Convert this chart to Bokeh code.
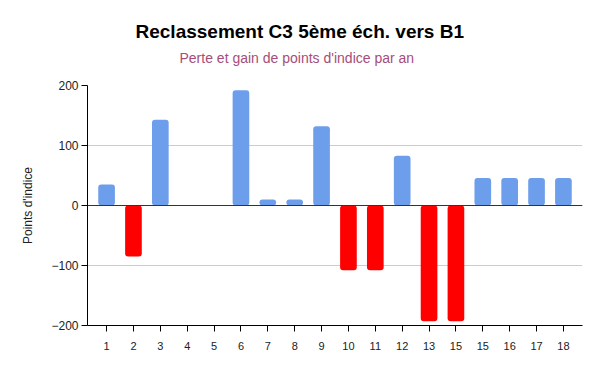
from bokeh.plotting import figure
from bokeh.models import Range1d, FixedTicker, Span, Title, ColumnDataSource
from bokeh.embed import file_html
from bokeh.resources import INLINE

# Data
positions = list(range(1, 19))
tick_labels = ["1", "2", "3", "4", "5", "6", "7", "8", "9", "10", "11", "12",
               "13", "15", "15", "16", "17", "18"]
values = [35, -85, 143, 0, 0, 192, 10, 10, 132, -108, -108, 83,
          -193, -193, 46, 46, 46, 46]
title_text = "Reclassement C3 5ème éch. vers B1"
subtitle_text = "Perte et gain de points d'indice par an"
y_label = "Points d'indice"
y_ticks = [-200, -100, 0, 100, 200]

BLUE = "#6D9EEB"
RED = "#FF0000"
FONT = "Liberation Sans"

colors = [BLUE if v >= 0 else RED for v in values]
src = ColumnDataSource(dict(x=positions, top=values, color=colors))

p = figure(width=600, height=371, output_backend="svg", toolbar_location=None,
           x_range=Range1d(0.29, 18.71), y_range=Range1d(-200, 200),
           min_border_left=87, min_border_right=18, min_border_top=85,
           min_border_bottom=46, title_location=None)
p.outline_line_color = None
p.background_fill_color = "white"
p.border_fill_color = "white"

p.vbar(x="x", top="top", bottom=0, width=0.62, fill_color="color",
       line_color=None, border_radius=3, source=src)

p.add_layout(Span(location=0, dimension="width", line_color="#333333", line_width=1))

# grids
p.xgrid.grid_line_color = None
p.ygrid.grid_line_color = "#cccccc"
p.ygrid.ticker = FixedTicker(ticks=y_ticks)

# y axis
p.yaxis.ticker = FixedTicker(ticks=y_ticks)
p.yaxis.axis_line_color = "black"
p.yaxis.major_tick_line_color = "black"
p.yaxis.major_tick_out = 6
p.yaxis.major_tick_in = 0
p.yaxis.minor_tick_line_color = None
p.yaxis.major_label_text_font = FONT
p.yaxis.major_label_text_font_size = "12px"
p.yaxis.major_label_text_color = "#222222"
p.yaxis.major_label_standoff = 3
p.yaxis.axis_label = y_label
p.yaxis.axis_label_text_font = FONT
p.yaxis.axis_label_text_font_size = "12px"
p.yaxis.axis_label_text_font_style = "normal"
p.yaxis.axis_label_text_color = "#222222"
p.yaxis.axis_label_standoff = 13

# x axis
p.xaxis.ticker = FixedTicker(ticks=positions)
p.xaxis.major_label_overrides = {pos: lab for pos, lab in zip(positions, tick_labels)}
p.xaxis.axis_line_color = "black"
p.xaxis.major_tick_line_color = "black"
p.xaxis.major_tick_out = 6
p.xaxis.major_tick_in = 0
p.xaxis.minor_tick_line_color = None
p.xaxis.major_label_text_font = FONT
p.xaxis.major_label_text_font_size = "11px"
p.xaxis.major_label_text_color = "#222222"
p.xaxis.major_label_standoff = 10

# titles (a blank spacer title keeps distance between subtitle and plot)
p.add_layout(Title(text=" ", standoff=10, text_font_size="1px"), "above")
p.add_layout(Title(text=subtitle_text, align="left", offset=92, standoff=13,
                   text_font=FONT, text_font_size="14px", text_font_style="normal",
                   text_color="#A64D79"), "above")
p.add_layout(Title(text=title_text, align="left", offset=48, standoff=0,
                   text_font=FONT, text_font_size="19px", text_font_style="bold",
                   text_color="black"), "above")

open("out.html", "w").write(file_html(p, INLINE))
